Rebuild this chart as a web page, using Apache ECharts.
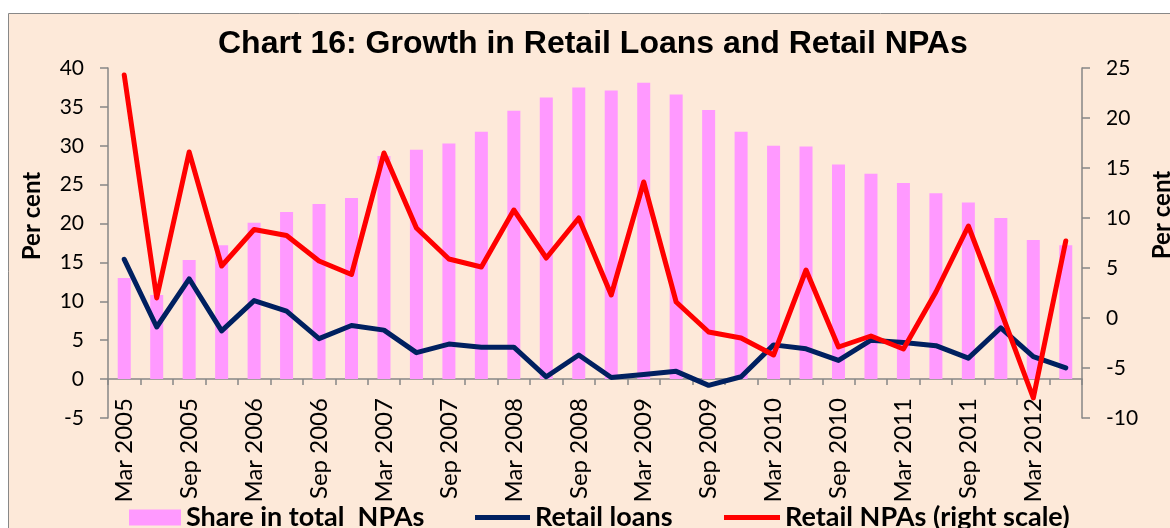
<!DOCTYPE html>
<html>
<head>
<meta charset="utf-8">
<script src="https://cdn.jsdelivr.net/npm/echarts@6/dist/echarts.min.js"></script>
<style>
  html, body { margin: 0; padding: 0; background: #fff; }
  #chart { width: 1170px; height: 528px; }
</style>
</head>
<body>
<div id="chart"></div>
<script>
// quarterly, Mar 2005 - Jun 2012
var categories = [
	'Mar 2005', 'Jun 2005', 'Sep 2005', 'Dec 2005',
	'Mar 2006', 'Jun 2006', 'Sep 2006', 'Dec 2006',
	'Mar 2007', 'Jun 2007', 'Sep 2007', 'Dec 2007',
	'Mar 2008', 'Jun 2008', 'Sep 2008', 'Dec 2008',
	'Mar 2009', 'Jun 2009', 'Sep 2009', 'Dec 2009',
	'Mar 2010', 'Jun 2010', 'Sep 2010', 'Dec 2010',
	'Mar 2011', 'Jun 2011', 'Sep 2011', 'Dec 2011',
	'Mar 2012', 'Jun 2012'
];
var shareInNPAs = [13.0, 10.8, 15.3, 17.2, 20.1, 21.5, 22.5, 23.3, 28.7, 29.5,
	30.3, 31.8, 34.5, 36.2, 37.5, 37.1, 38.1, 36.6, 34.6, 31.8,
	30.0, 29.9, 27.6, 26.4, 25.2, 23.9, 22.7, 20.7, 17.9, 17.2];
var retailLoans = [15.4, 6.7, 12.9, 6.2, 10.1, 8.75, 5.2, 6.9, 6.3, 3.4,
	4.5, 4.1, 4.1, 0.3, 3.1, 0.2, 0.6, 1.0, -0.8, 0.3,
	4.4, 3.9, 2.4, 5.0, 4.7, 4.3, 2.7, 6.6, 2.9, 1.45];
var retailNPAs = [24.3, 2.0, 16.6, 5.2, 8.85, 8.25, 5.7, 4.35, 16.5, 9.0,
	5.9, 5.1, 10.8, 6.0, 10.0, 2.3, 13.6, 1.6, -1.4, -2.0,
	-3.7, 4.8, -2.9, -1.8, -3.1, 2.6, 9.2, 0.7, -8.0, 7.7];
var leftTicks = {min: -5, max: 40, step: 5};
var rightTicks = {min: -10, max: 25, step: 5};
var seriesNames = ['Share in total  NPAs', 'Retail loans', 'Retail NPAs (right scale)'];

var FONT = 'Lato';
var axisGrey = '#868686';

var gridTop = 68, gridBottom = 110, chartH = 528;
// shift the category axis up to the 0 line of the left scale
var plotH = chartH - gridTop - gridBottom;
var zeroShift = -plotH * (0 - leftTicks.min) / (leftTicks.max - leftTicks.min);

var myChart = echarts.init(document.getElementById('chart'));

function legendAt(name, left, w, h) {
	return {
		data: [{name: name, icon: 'rect'}],
		left: left, top: 504, padding: 0,
		itemWidth: w, itemHeight: h, itemGap: 5,
		selectedMode: false,
		textStyle: {fontFamily: FONT, fontSize: 27, fontWeight: 'bold', color: '#000', padding: [0, 0, 0, 0]}
	};
}

var option = {
	backgroundColor: '#ffffff',
	animation: false,
	title: {
		text: 'Chart 16: Growth in Retail Loans and Retail NPAs',
		left: 218, top: 28, padding: 0,
		textStyle: {fontFamily: 'Liberation Sans', fontSize: 32, fontWeight: 'bold', color: '#000'}
	},
	graphic: [
		{
			type: 'rect', z: -10, silent: true,
			shape: {x: 8.5, y: 13.5, width: 1200, height: 600},
			style: {fill: '#FDE9D9', stroke: '#888888', lineWidth: 1}
		},
		{
			type: 'text', x: 32, y: 216, rotation: Math.PI / 2,
			style: {text: 'Per cent', fontFamily: FONT, fontSize: 24, fontWeight: 'bold', fill: '#000', align: 'center', verticalAlign: 'middle'}
		},
		{
			type: 'text', x: 1162, y: 215, rotation: Math.PI / 2,
			style: {text: 'Per cent', fontFamily: FONT, fontSize: 24, fontWeight: 'bold', fill: '#000', align: 'center', verticalAlign: 'middle'}
		}
	],
	legend: [
		legendAt(seriesNames[0], 129, 52, 16),
		legendAt(seriesNames[1], 475, 55, 5),
		legendAt(seriesNames[2], 724, 56, 5)
	],
	grid: {left: 108, right: 88, top: gridTop, bottom: gridBottom, containLabel: false, outerBoundsMode: 'none'},
	xAxis: {
		type: 'category',
		data: categories,
		boundaryGap: true,
		offset: zeroShift,
		axisLine: {onZero: false, lineStyle: {color: axisGrey, width: 1.5}},
		axisTick: {show: true, interval: 0, length: 6, lineStyle: {color: axisGrey, width: 1.5}},
		axisLabel: {interval: 1, rotate: 90, margin: 19, fontFamily: FONT, fontSize: 24, color: '#000'},
		splitLine: {show: false}
	},
	yAxis: [
		{
			type: 'value',
			min: leftTicks.min, max: leftTicks.max, interval: leftTicks.step,
			axisLine: {show: true, lineStyle: {color: axisGrey, width: 1.5}},
			axisTick: {show: true, length: 8, lineStyle: {color: axisGrey, width: 1.5}},
			axisLabel: {margin: 24, fontFamily: FONT, fontSize: 21, color: '#000'},
			splitLine: {show: false}
		},
		{
			type: 'value',
			min: rightTicks.min, max: rightTicks.max, interval: rightTicks.step,
			axisLine: {show: true, lineStyle: {color: axisGrey, width: 1.5}},
			axisTick: {show: true, length: 8, lineStyle: {color: axisGrey, width: 1.5}},
			axisLabel: {margin: 24, fontFamily: FONT, fontSize: 21, color: '#000'},
			splitLine: {show: false}
		}
	],
	series: [
		{
			name: seriesNames[0],
			type: 'bar',
			yAxisIndex: 0,
			barWidth: 13,
			itemStyle: {color: '#FF99FF'},
			data: shareInNPAs
		},
		{
			name: seriesNames[1],
			type: 'line',
			yAxisIndex: 0,
			symbol: 'none',
			itemStyle: {color: '#002060'},
			lineStyle: {color: '#002060', width: 5, cap: 'round', join: 'round'},
			data: retailLoans
		},
		{
			name: seriesNames[2],
			type: 'line',
			yAxisIndex: 1,
			symbol: 'none',
			itemStyle: {color: '#FF0000'},
			lineStyle: {color: '#FF0000', width: 5, cap: 'round', join: 'round'},
			data: retailNPAs
		}
	]
};

myChart.setOption(option);
</script>
</body>
</html>
